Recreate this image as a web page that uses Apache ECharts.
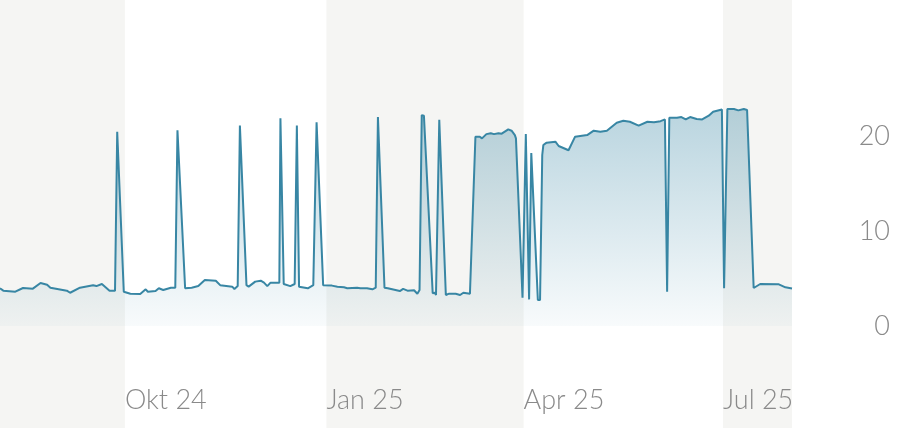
<!DOCTYPE html>
<html>
<head>
<meta charset="utf-8">
<script src="https://cdn.jsdelivr.net/npm/echarts@6/dist/echarts.min.js"></script>
<style>
html,body{margin:0;padding:0;background:#fff;}
#chart{width:902px;height:428px;}
</style>
</head>
<body>
<div id="chart"></div>
<script>
const dates = [
'2024-08-05','2024-08-06T12:00','2024-08-12','2024-08-15T12:00','2024-08-20','2024-08-23T12:00','2024-08-26T12:00','2024-08-28',
'2024-09-04T12:00','2024-09-06','2024-09-10T12:00','2024-09-16T12:00','2024-09-18','2024-09-20T12:00','2024-09-24','2024-09-26T12:00',
'2024-09-27T12:00','2024-09-30T12:00','2024-10-03T12:00','2024-10-08','2024-10-10T12:00','2024-10-11T12:00','2024-10-15','2024-10-16T12:00',
'2024-10-18T12:00','2024-10-22','2024-10-24','2024-10-25','2024-10-28T12:00','2024-10-31T12:00','2024-11-03T12:00','2024-11-06T12:00',
'2024-11-11T12:00','2024-11-13T12:00','2024-11-19','2024-11-20','2024-11-21T12:00','2024-11-22T12:00','2024-11-25T12:00','2024-11-26T12:00',
'2024-11-29T12:00','2024-12-02','2024-12-03T12:00','2024-12-05','2024-12-06T12:00','2024-12-10T12:00','2024-12-11','2024-12-12T12:00',
'2024-12-15T12:00','2024-12-17T12:00','2024-12-18T12:00','2024-12-19T12:00','2024-12-23T12:00','2024-12-26','2024-12-27T12:00','2024-12-30T12:00',
'2025-01-03T12:00','2025-01-06','2025-01-09','2025-01-10T12:00','2025-01-15','2025-01-16T12:00','2025-01-19T12:00','2025-01-22',
'2025-01-23T12:00','2025-01-24T12:00','2025-01-27T12:00','2025-01-29','2025-02-02','2025-02-03T12:00','2025-02-05','2025-02-07',
'2025-02-10','2025-02-11T12:00','2025-02-12T12:00','2025-02-13T12:00','2025-02-14T12:00','2025-02-18T12:00','2025-02-19T12:00','2025-02-20',
'2025-02-21T12:00','2025-02-24T12:00','2025-02-26','2025-03-01','2025-03-03','2025-03-04T12:00','2025-03-07T12:00','2025-03-10',
'2025-03-12','2025-03-13','2025-03-15','2025-03-17','2025-03-18T12:00','2025-03-20T12:00','2025-03-22','2025-03-25',
'2025-03-26T12:00','2025-03-28','2025-03-28T12:00','2025-03-31T12:00','2025-04-02','2025-04-02T12:00','2025-04-03T12:00','2025-04-04T12:00',
'2025-04-07T12:00','2025-04-08T12:00','2025-04-09T12:00','2025-04-10','2025-04-11T12:00','2025-04-15T12:00','2025-04-17','2025-04-21T12:00',
'2025-04-24T12:00','2025-04-30','2025-05-03','2025-05-06','2025-05-09','2025-05-13T12:00','2025-05-16T12:00','2025-05-19T12:00',
'2025-05-23T12:00','2025-05-27T12:00','2025-05-30T12:00','2025-06-02T12:00','2025-06-04T12:00','2025-06-05T12:00','2025-06-06T12:00','2025-06-10',
'2025-06-12','2025-06-14','2025-06-16','2025-06-19','2025-06-21T12:00','2025-06-24T12:00','2025-06-26T12:00','2025-06-30T12:00',
'2025-07-01T12:00','2025-07-03','2025-07-06','2025-07-08','2025-07-10T12:00','2025-07-12','2025-07-15','2025-07-18',
'2025-07-26T12:00','2025-07-29T12:00','2025-08-01T12:00'
];
const values = [
3.97,3.72,3.61,4.0,3.93,4.53,4.35,4.03,
3.72,3.5,4.03,4.28,4.2,4.42,3.72,3.72,
20.45,3.61,3.4,3.37,3.86,3.61,3.68,3.97,
3.79,4.03,4.03,20.6,3.97,4.03,4.2,4.84,
4.77,4.3,4.14,3.9,4.2,21.1,4.3,4.14,
4.67,4.77,4.56,4.2,4.56,4.56,21.86,4.42,
4.2,4.42,21.1,4.14,3.97,4.3,21.44,4.3,
4.25,4.14,4.07,3.97,4.03,3.97,3.97,3.86,
4.03,22.0,4.03,3.97,3.76,3.68,3.9,3.72,
3.76,3.4,3.79,22.2,22.14,3.44,3.5,3.26,
21.7,3.26,3.4,3.4,3.26,3.5,3.4,19.93,
19.93,19.75,20.2,20.3,20.2,20.3,20.25,20.7,
20.56,20.1,19.75,2.98,20.2,20.2,2.8,18.2,
2.74,2.74,18.0,19.05,19.3,19.4,18.95,18.5,
19.93,20.1,20.56,20.45,20.56,21.4,21.6,21.5,
21.1,21.5,21.44,21.56,21.75,3.61,21.93,21.93,
22.0,21.75,22.0,21.8,21.75,22.14,22.56,22.8,
3.97,22.84,22.84,22.7,22.84,22.74,4.0,4.42,
4.39,4.07,3.95
];
const axisStart = '2024-08-05';
const axisEnd = '2025-08-01T12:00';
const bandStarts = ['2024-08-05','2025-01-01','2025-07-01'];
const bandEnds = ['2024-10-01','2025-04-01','2025-08-01T12:00'];
const tickDates = ['2024-10-01','2025-01-01','2025-04-01','2025-07-01'];
const tickLabels = ['Okt 24','Jan 25','Apr 25','Jul 25'];
const yTicks = [0,10,20];

function ts(s) {
  const m = s.match(/^(\d+)-(\d+)-(\d+)(?:T(\d+):(\d+))?$/);
  return new Date(+m[1], +m[2] - 1, +m[3], m[4] ? +m[4] : 0, m[5] ? +m[5] : 0).getTime();
}
const tickTimes = tickDates.map(ts);
const seriesData = dates.map((d, i) => [ts(d), values[i]]);
const bands = bandStarts.map((s, i) => [{xAxis: ts(s)}, {xAxis: ts(bandEnds[i])}]);

const FONT = 'Lato, "Open Sans", sans-serif';
const chart = echarts.init(document.getElementById('chart'), null, {renderer: 'canvas'});
chart.setOption({
  animation: false,
  backgroundColor: '#ffffff',
  grid: {left: 0, right: 110, top: 0, bottom: 0, containLabel: false},
  xAxis: {
    type: 'value',
    z: 10,
    min: ts(axisStart),
    max: ts(axisEnd),
    axisLine: {show: false},
    axisTick: {show: false},
    splitLine: {show: false},
    axisLabel: {
      inside: true,
      margin: 14,
      align: 'left',
      interval: 0,
      hideOverlap: false,
      showMinLabel: true,
      showMaxLabel: true,
      color: '#8a8a8a',
      fontSize: 27,
      fontWeight: 300,
      fontFamily: FONT,
      customValues: tickTimes,
      formatter: function (v) {
        const idx = tickTimes.indexOf(+v);
        return idx >= 0 ? tickLabels[idx] : '';
      }
    }
  },
  yAxis: {
    type: 'value',
    z: 10,
    position: 'right',
    min: -10.74,
    max: 34.32,
    axisLine: {show: false},
    axisTick: {show: false},
    splitLine: {show: false},
    axisLabel: {
      customValues: yTicks,
      align: 'right',
      margin: 98,
      color: '#8a8a8a',
      fontSize: 27,
      fontWeight: 300,
      fontFamily: FONT
    }
  },
  series: [
    {
      type: 'line',
      z: 0,
      data: [],
      silent: true,
      markArea: {
        silent: true,
        itemStyle: {color: '#f5f5f3'},
        data: bands
      }
    },
    {
      type: 'line',
      z: 3,
      data: seriesData,
      showSymbol: false,
      symbol: 'none',
      lineStyle: {color: '#3886a4', width: 2},
      areaStyle: {
        color: new echarts.graphic.LinearGradient(0, 0, 0, 1, [
          {offset: 0, color: 'rgba(56,134,164,0.5)'},
          {offset: 1, color: 'rgba(56,134,164,0.05)'}
        ])
      }
    }
  ]
});
</script>
</body>
</html>
